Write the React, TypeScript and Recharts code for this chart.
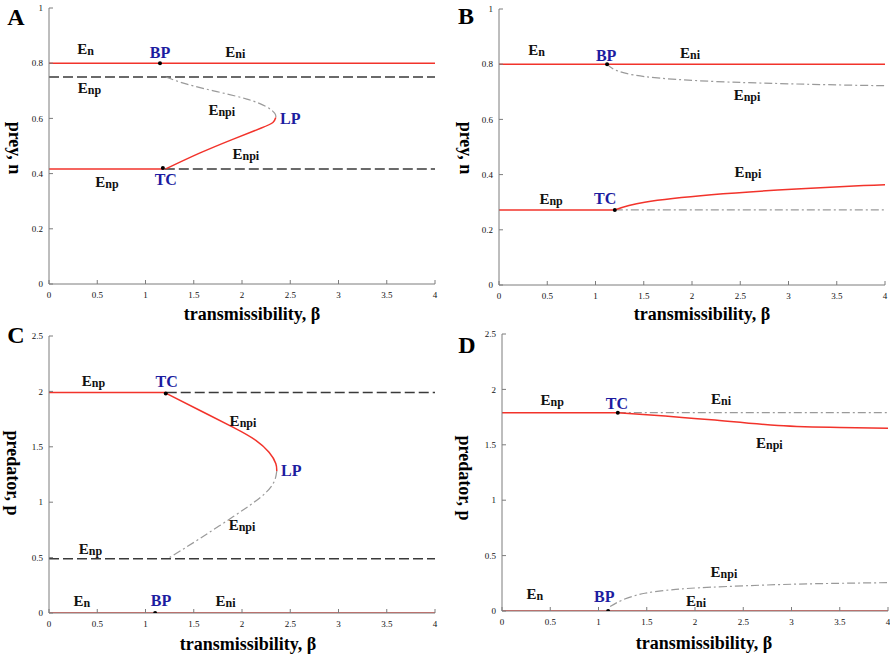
import {
  ComposedChart,
  Line,
  Scatter,
  XAxis,
  YAxis,
} from "recharts";

type Pt = { x: number; y: number };
type Tag = { x: number; y: number; text: string };

const X_TICKS = [0, 0.5, 1, 1.5, 2, 2.5, 3, 3.5, 4];
const PREY_TICKS = [0, 0.2, 0.4, 0.6, 0.8, 1];
const PRED_TICKS = [0, 0.5, 1, 1.5, 2, 2.5];

// ---- panel A: prey, n ----
const aEnEni: Pt[] = [{ x: 0, y: 0.8 }, { x: 4, y: 0.8 }];
const aEnpTop: Pt[] = [{ x: 0, y: 0.75 }, { x: 4, y: 0.75 }];
const aEnpStable: Pt[] = [{ x: 0, y: 0.417 }, { x: 1.2, y: 0.417 }];
const aEnpUnstable: Pt[] = [{ x: 1.2, y: 0.417 }, { x: 4, y: 0.417 }];
const aEnpiUnstable: Pt[] = [
  { x: 1.21, y: 0.75 }, { x: 1.42, y: 0.725 }, { x: 1.74, y: 0.697 },
  { x: 2.05, y: 0.67 }, { x: 2.25, y: 0.643 }, { x: 2.34, y: 0.618 },
  { x: 2.35, y: 0.603 },
];
const aEnpiStable: Pt[] = [
  { x: 2.35, y: 0.603 }, { x: 2.32, y: 0.585 }, { x: 2.2, y: 0.565 },
  { x: 1.91, y: 0.525 }, { x: 1.56, y: 0.474 }, { x: 1.21, y: 0.417 },
];
const aDots: Pt[] = [{ x: 1.15, y: 0.8 }, { x: 1.18, y: 0.42 }];
const aTags: Tag[] = [
  { x: 0.38, y: 0.85, text: "En" },
  { x: 1.15, y: 0.84, text: "BP" },
  { x: 1.93, y: 0.84, text: "Eni" },
  { x: 0.42, y: 0.71, text: "Enp" },
  { x: 1.79, y: 0.63, text: "Enpi" },
  { x: 2.5, y: 0.6, text: "LP" },
  { x: 2.04, y: 0.47, text: "Enpi" },
  { x: 0.6, y: 0.37, text: "Enp" },
  { x: 1.21, y: 0.38, text: "TC" },
];

// ---- panel B: prey, n ----
const bEnEni: Pt[] = [{ x: 0, y: 0.8 }, { x: 4, y: 0.8 }];
const bEnpiUnstable: Pt[] = [
  { x: 1.12, y: 0.8 }, { x: 1.2, y: 0.78 }, { x: 1.51, y: 0.755 },
  { x: 2.2, y: 0.738 }, { x: 2.89, y: 0.73 }, { x: 3.5, y: 0.725 },
  { x: 4, y: 0.722 },
];
const bEnpStable: Pt[] = [{ x: 0, y: 0.272 }, { x: 1.2, y: 0.272 }];
const bEnpUnstable: Pt[] = [{ x: 1.2, y: 0.272 }, { x: 4, y: 0.272 }];
const bEnpiStable: Pt[] = [
  { x: 1.2, y: 0.272 }, { x: 1.51, y: 0.3 }, { x: 2.2, y: 0.327 },
  { x: 2.89, y: 0.344 }, { x: 3.58, y: 0.357 }, { x: 4, y: 0.363 },
];
const bDots: Pt[] = [{ x: 1.12, y: 0.8 }, { x: 1.2, y: 0.272 }];
const bTags: Tag[] = [
  { x: 0.39, y: 0.85, text: "En" },
  { x: 1.11, y: 0.834, text: "BP" },
  { x: 1.98, y: 0.84, text: "Eni" },
  { x: 2.57, y: 0.69, text: "Enpi" },
  { x: 2.58, y: 0.41, text: "Enpi" },
  { x: 0.54, y: 0.31, text: "Enp" },
  { x: 1.1, y: 0.317, text: "TC" },
];

// ---- panel C: predator, p ----
const cEnpStable: Pt[] = [{ x: 0, y: 1.99 }, { x: 1.22, y: 1.99 }];
const cEnpUnstable: Pt[] = [{ x: 1.22, y: 1.99 }, { x: 4, y: 1.99 }];
const cEnpiStable: Pt[] = [
  { x: 1.22, y: 1.98 }, { x: 1.56, y: 1.83 }, { x: 1.91, y: 1.675 },
  { x: 2.14, y: 1.56 }, { x: 2.28, y: 1.45 }, { x: 2.35, y: 1.35 },
  { x: 2.36, y: 1.28 },
];
const cEnpiUnstable: Pt[] = [
  { x: 2.36, y: 1.28 }, { x: 2.33, y: 1.18 }, { x: 2.2, y: 1.05 },
  { x: 1.91, y: 0.87 }, { x: 1.56, y: 0.67 }, { x: 1.25, y: 0.5 },
];
const cEnpLow: Pt[] = [{ x: 0, y: 0.49 }, { x: 4, y: 0.49 }];
const cEnEni: Pt[] = [{ x: 0, y: 0 }, { x: 4, y: 0 }];
const cDots: Pt[] = [{ x: 1.21, y: 1.98 }, { x: 1.1, y: 0 }];
const cTags: Tag[] = [
  { x: 0.46, y: 2.09, text: "Enp" },
  { x: 1.22, y: 2.09, text: "TC" },
  { x: 2.01, y: 1.73, text: "Enpi" },
  { x: 2.51, y: 1.29, text: "LP" },
  { x: 2.0, y: 0.79, text: "Enpi" },
  { x: 0.43, y: 0.575, text: "Enp" },
  { x: 0.34, y: 0.105, text: "En" },
  { x: 1.16, y: 0.115, text: "BP" },
  { x: 1.83, y: 0.105, text: "Eni" },
];

// ---- panel D: predator, p ----
const dEnpStable: Pt[] = [{ x: 0, y: 1.79 }, { x: 1.2, y: 1.79 }];
const dEnpUnstable: Pt[] = [{ x: 1.2, y: 1.79 }, { x: 4, y: 1.79 }];
const dEnpiStable: Pt[] = [
  { x: 1.2, y: 1.79 }, { x: 1.5, y: 1.772 }, { x: 2.17, y: 1.726 },
  { x: 2.86, y: 1.675 }, { x: 3.5, y: 1.657 }, { x: 4, y: 1.65 },
];
const dEnEni: Pt[] = [{ x: 0, y: 0 }, { x: 4, y: 0 }];
const dEnpiUnstable: Pt[] = [
  { x: 1.12, y: 0.04 }, { x: 1.25, y: 0.1 }, { x: 1.48, y: 0.16 },
  { x: 1.8, y: 0.195 }, { x: 2.17, y: 0.215 }, { x: 2.86, y: 0.238 },
  { x: 3.5, y: 0.25 }, { x: 4, y: 0.256 },
];
const dDots: Pt[] = [{ x: 1.2, y: 1.79 }, { x: 1.1, y: 0 }];
const dTags: Tag[] = [
  { x: 0.52, y: 1.9, text: "Enp" },
  { x: 1.19, y: 1.88, text: "TC" },
  { x: 2.27, y: 1.91, text: "Eni" },
  { x: 2.77, y: 1.515, text: "Enpi" },
  { x: 2.3, y: 0.35, text: "Enpi" },
  { x: 0.34, y: 0.154, text: "En" },
  { x: 1.06, y: 0.136, text: "BP" },
  { x: 2.01, y: 0.09, text: "Eni" },
];

const SERIF = "'Liberation Serif', 'Times New Roman', serif";
const RED = "#f2332b";
const DARK = "#3a3a3a";
const GREY = "#9a9a9a";
const FRAME = "#7c7c7c";

type Seg = { data: Pt[]; kind: "stable" | "dash" | "grey" };

function TagShape(props: any) {
  const { cx, cy, payload } = props;
  const text: string = payload.text;
  if (text.startsWith("E")) {
    return (
      <text
        x={cx}
        y={cy + 5}
        textAnchor="middle"
        fontFamily={SERIF}
        fontWeight="bold"
        fill="#111"
      >
        <tspan fontSize={15}>E</tspan>
        <tspan fontSize={12} dy={1}>{text.slice(1)}</tspan>
      </text>
    );
  }
  return (
    <text
      x={cx}
      y={cy + 6}
      textAnchor="middle"
      fontFamily={SERIF}
      fontWeight="bold"
      fontSize={16}
      fill="#1c1ca0"
    >
      {text}
    </text>
  );
}

function DotShape(props: any) {
  return <circle cx={props.cx} cy={props.cy} r={2} fill="#000" />;
}

interface PanelProps {
  left: number;
  top: number;
  width: number;
  height: number;
  margin: { top: number; right: number; bottom: number; left: number };
  yMax: number;
  yTicks: number[];
  segs: Seg[];
  dots: Pt[];
  tags: Tag[];
}

function Panel({ left, top, width, height, margin, yMax, yTicks, segs, dots, tags }: PanelProps) {
  const tickStyle = { fontSize: 9, fill: "#111", fontFamily: SERIF };
  return (
    <div style={{ position: "absolute", left, top }}>
      <ComposedChart width={width} height={height} margin={margin}>
        <XAxis
          xAxisId="b"
          type="number"
          dataKey="x"
          domain={[0, 4]}
          ticks={X_TICKS}
          height={20}
          tickSize={-4}
          tickMargin={12}
          tick={tickStyle}
          stroke={FRAME}
          interval={0}
          allowDataOverflow
        />
        <XAxis
          xAxisId="t"
          orientation="top"
          type="number"
          domain={[0, 4]}
          ticks={X_TICKS}
          height={0}
          tickSize={-4}
          tickFormatter={() => ""}
          stroke={FRAME}
        />
        <YAxis
          yAxisId="l"
          type="number"
          dataKey="y"
          domain={[0, yMax]}
          ticks={yTicks}
          width={30}
          tickSize={-4}
          tickMargin={10}
          tick={tickStyle}
          stroke={FRAME}
          interval={0}
          allowDataOverflow
        />
        <YAxis
          yAxisId="r"
          orientation="right"
          type="number"
          domain={[0, yMax]}
          ticks={yTicks}
          width={0}
          tickSize={-4}
          tickFormatter={() => ""}
          stroke={FRAME}
        />
        {segs.map((s, i) => (
          <Line
            key={i}
            xAxisId="b"
            yAxisId="l"
            data={s.data}
            dataKey="y"
            type={s.data.length > 2 ? "natural" : "linear"}
            stroke={s.kind === "stable" ? RED : s.kind === "dash" ? DARK : GREY}
            strokeWidth={s.kind === "grey" ? 1.2 : 1.5}
            strokeDasharray={
              s.kind === "dash" ? "10 4" : s.kind === "grey" ? "8 3 2 3" : undefined
            }
            dot={false}
            activeDot={false}
            isAnimationActive={false}
          />
        ))}
        <Scatter
          xAxisId="b"
          yAxisId="l"
          data={dots}
          shape={DotShape}
          isAnimationActive={false}
        />
        <Scatter
          xAxisId="b"
          yAxisId="l"
          data={tags}
          shape={TagShape}
          isAnimationActive={false}
        />
      </ComposedChart>
    </div>
  );
}

export default function App() {
  const titleProps = {
    fontFamily: SERIF,
    fontWeight: "bold" as const,
    fill: "#000",
  };
  return (
    <div
      style={{
        position: "absolute",
        left: 0,
        top: 0,
        width: 890,
        height: 658,
        background: "#fff",
        overflow: "hidden",
      }}
    >
      <Panel
        left={0}
        top={0}
        width={445}
        height={320}
        margin={{ top: 8, right: 10, bottom: 16, left: 19 }}
        yMax={1}
        yTicks={PREY_TICKS}
        segs={[
          { data: aEnEni, kind: "stable" },
          { data: aEnpTop, kind: "dash" },
          { data: aEnpStable, kind: "stable" },
          { data: aEnpUnstable, kind: "dash" },
          { data: aEnpiUnstable, kind: "grey" },
          { data: aEnpiStable, kind: "stable" },
        ]}
        dots={aDots}
        tags={aTags}
      />
      <Panel
        left={445}
        top={0}
        width={445}
        height={320}
        margin={{ top: 9, right: 5, bottom: 15, left: 24 }}
        yMax={1}
        yTicks={PREY_TICKS}
        segs={[
          { data: bEnEni, kind: "stable" },
          { data: bEnpiUnstable, kind: "grey" },
          { data: bEnpStable, kind: "stable" },
          { data: bEnpUnstable, kind: "grey" },
          { data: bEnpiStable, kind: "stable" },
        ]}
        dots={bDots}
        tags={bTags}
      />
      <Panel
        left={0}
        top={320}
        width={445}
        height={338}
        margin={{ top: 16, right: 10, bottom: 25, left: 19 }}
        yMax={2.5}
        yTicks={PRED_TICKS}
        segs={[
          { data: cEnpStable, kind: "stable" },
          { data: cEnpUnstable, kind: "dash" },
          { data: cEnpiStable, kind: "stable" },
          { data: cEnpiUnstable, kind: "grey" },
          { data: cEnpLow, kind: "dash" },
          { data: cEnEni, kind: "stable" },
        ]}
        dots={cDots}
        tags={cTags}
      />
      <Panel
        left={445}
        top={320}
        width={445}
        height={338}
        margin={{ top: 14, right: 2, bottom: 27, left: 27 }}
        yMax={2.5}
        yTicks={PRED_TICKS}
        segs={[
          { data: dEnpStable, kind: "stable" },
          { data: dEnpUnstable, kind: "grey" },
          { data: dEnpiStable, kind: "stable" },
          { data: dEnEni, kind: "stable" },
          { data: dEnpiUnstable, kind: "grey" },
        ]}
        dots={dDots}
        tags={dTags}
      />
      <svg
        width={890}
        height={658}
        style={{ position: "absolute", left: 0, top: 0, pointerEvents: "none" }}
      >
        <text x={16} y={25} textAnchor="middle" fontSize={24} {...titleProps}>A</text>
        <text x={466} y={24} textAnchor="middle" fontSize={24} {...titleProps}>B</text>
        <text x={16} y={343} textAnchor="middle" fontSize={24} {...titleProps}>C</text>
        <text x={467} y={353} textAnchor="middle" fontSize={24} {...titleProps}>D</text>

        <text x={252} y={320} textAnchor="middle" fontSize={18} {...titleProps}>transmissibility, β</text>
        <text x={702} y={320} textAnchor="middle" fontSize={18} {...titleProps}>transmissibility, β</text>
        <text x={248} y={650} textAnchor="middle" fontSize={18} {...titleProps}>transmissibility, β</text>
        <text x={704} y={649} textAnchor="middle" fontSize={18} {...titleProps}>transmissibility, β</text>

        <text x={15} y={148} transform="rotate(90 15 148)" textAnchor="middle" dominantBaseline="central" fontSize={18} {...titleProps}>prey, n</text>
        <text x={466} y={148} transform="rotate(90 466 148)" textAnchor="middle" dominantBaseline="central" fontSize={18} {...titleProps}>prey, n</text>
        <text x={13} y={473} transform="rotate(90 13 473)" textAnchor="middle" dominantBaseline="central" fontSize={18} {...titleProps}>predator, p</text>
        <text x={465} y={478} transform="rotate(90 465 478)" textAnchor="middle" dominantBaseline="central" fontSize={18} {...titleProps}>predator, p</text>
      </svg>
    </div>
  );
}
